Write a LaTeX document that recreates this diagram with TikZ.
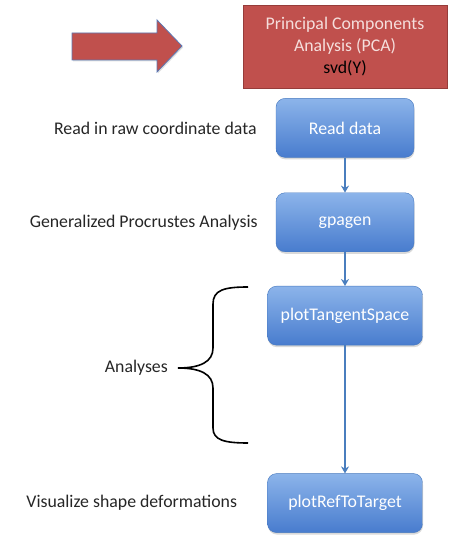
\documentclass[tikz,border=0pt]{standalone}
\usepackage{fontspec}
\setmainfont{Carlito}
\usetikzlibrary{positioning,shadows,arrows.meta}
\definecolor{pcared}{RGB}{192,80,77}
\definecolor{pcaedge}{RGB}{150,60,58}
\definecolor{pcatext}{RGB}{245,222,220}
\definecolor{boxtop}{RGB}{140,180,234}
\definecolor{boxbottom}{RGB}{72,124,206}
\definecolor{boxedge}{RGB}{70,120,190}
\definecolor{flowblue}{RGB}{74,126,190}
\definecolor{arrowedge}{RGB}{90,120,180}

\begin{document}
\begin{tikzpicture}[x=1pt,y=1pt,every node/.style={font=\fontsize{17.8}{22}\selectfont},
pcabox/.style={draw=pcaedge, fill=pcared, text=pcatext, align=center, minimum width=204pt, minimum height=83pt, inner sep=0pt},
stepbox/.style={draw=boxedge, rounded corners=9pt, top color=boxtop, bottom color=boxbottom, text=white, minimum height=59pt, inner sep=0pt, drop shadow={shadow xshift=0.5pt, shadow yshift=-2pt, opacity=0.3}},
note/.style={inner sep=0pt, text=black!85},
flow/.style={draw=flowblue, line width=1.4pt, -{Stealth[length=7pt,width=8pt]}},
brace/.style={draw=black, line width=1.6pt}]
\useasboundingbox (0,0) rectangle (459,540);
% big arrow
\draw[fill=pcared, draw=arrowedge, line width=0.8pt, drop shadow={shadow xshift=1pt, shadow yshift=-1.5pt, opacity=0.25}] (72,507) -- (157,507) -- (157,520) -- (182,494) -- (157,468) -- (157,480) -- (72,480) -- cycle;
\node[pcabox] (pca) at (345,493.5) {Principal Components\\Analysis (PCA)\\{\color{black}svd(Y)}};
\node[stepbox, minimum width=138pt, below=10pt of pca] (read) {Read data};
\node[stepbox, minimum width=138pt, below=35pt of read] (gpagen) {gpagen};
\node[stepbox, minimum width=155pt, below=34pt of gpagen] (tangent) {plotTangentSpace};
\node[stepbox, minimum width=155pt, below=128pt of tangent] (reftarget) {plotRefToTarget};
% notes on the left
\node[note, left=19pt of read] (readnote) {Read in raw coordinate data};
\node[note, left=18pt of gpagen] (gpanote) {Generalized Procrustes Analysis};
\node[note, left=30pt of reftarget] (visnote) {Visualize shape deformations};
\coordinate (bracetip) at (178,172);
\node[note, left=10pt of bracetip] (analyses) {Analyses};
\draw[brace] (248,253) .. controls (224,253) and (213,250) .. (213,236) -- (213,192) .. controls (213,178) and (200,172) .. (bracetip) .. controls (200,172) and (213,166) .. (213,152) -- (213,112) .. controls (213,100) and (224,97) .. (248,97);
% flow
\draw[flow] (read) -- (gpagen);
\draw[flow] (gpagen) -- (tangent);
\draw[flow] (tangent) -- (reftarget);
\end{tikzpicture}
\end{document}
